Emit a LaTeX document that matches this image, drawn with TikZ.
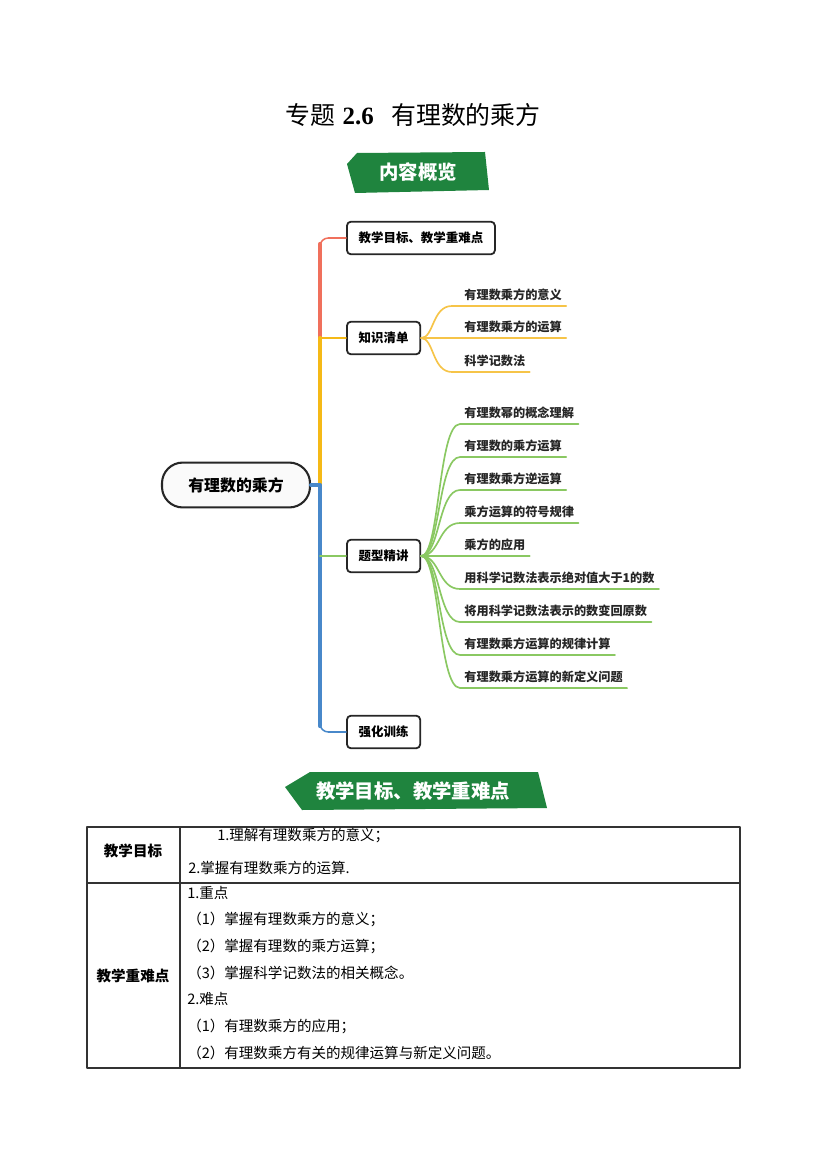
\documentclass[tikz,border=0pt]{standalone}
\usepackage{fontspec}
\setmainfont{Noto Sans CJK SC}
\newfontfamily\titlelatin{Liberation Serif}
\usetikzlibrary{calc}
\definecolor{bannergreen}{RGB}{31,132,62}
\definecolor{spinered}{RGB}{240,112,92}
\definecolor{spineyellow}{RGB}{245,185,22}
\definecolor{spineblue}{RGB}{72,136,202}
\definecolor{leafyellow}{RGB}{246,196,72}
\definecolor{leafgreen}{RGB}{138,200,98}
\begin{document}
\begin{tikzpicture}[
	x=0.254mm,
	y=-0.254mm,
	line cap=round,
	line join=round,
	rootbox/.style={draw=black!85,line width=1.5pt,fill=black!2,rounded corners=15pt,minimum width=37.6mm,minimum height=11.4mm,font=\fontsize{11.5}{13}\selectfont\bfseries},
	topicbox/.style={draw=black!85,line width=1.3pt,rounded corners=3pt,minimum height=8.3mm,inner xsep=8.5pt,font=\fontsize{9}{11}\selectfont\bfseries},
	leaf/.style={anchor=south west,inner xsep=3pt,inner ysep=3.5pt,font=\fontsize{8.8}{11}\selectfont\bfseries,text=black!85},
	trunk/.style={line width=3pt},
	twig/.style={line width=1.1pt},
	leafline/.style={line width=1.2pt},
	banner/.style={fill=bannergreen},
	bannertext/.style={text=white,font=\fontsize{14}{16}\selectfont\bfseries},
	cell/.style={anchor=west,inner sep=0pt,font=\fontsize{10.5}{12}\selectfont},
	headcell/.style={inner sep=0pt,font=\fontsize{10.5}{12}\selectfont\bfseries},
	tableline/.style={draw=black!80,line width=0.8pt,line cap=rect}
	]
	\useasboundingbox (0,0) rectangle (827,1169);
	\node (title) at (413,115) {\fontsize{18}{20}\selectfont 专题\hspace{0.3em}{\titlelatin\bfseries 2.6}\hspace{0.7em}有理数的乘方};
	% overview banner
	\fill[banner] (357,153) -- (485,152) -- (489,190) -- (355,193) -- (347,164) -- cycle;
	\node[bannertext] (overview) at (418,172) {内容概览};
	% mind map
	\node[rootbox] (root) at (236,485) {有理数的乘方};
	\node[topicbox,anchor=west] (goal) at (346,238) {教学目标、教学重难点};
	\node[topicbox,anchor=west] (list) at (346,338) {知识清单};
	\node[topicbox,anchor=west] (types) at (346,556) {题型精讲};
	\node[topicbox,anchor=west] (train) at (346,732) {强化训练};
	\coordinate (hub) at (320,485);
	\draw[twig,spinered,rounded corners=6pt] (hub |- list) |- (goal);
	\draw[trunk,spinered] (hub |- list) -- ($(hub |- goal)+(0,6)$);
	\draw[trunk,spineyellow] (hub) -- (hub |- list);
	\draw[twig,spineyellow] (hub |- list) -- (list);
	\draw[twig,spineblue,rounded corners=6pt] (hub) |- (train);
	\draw[trunk,spineblue] (root.east) -- (hub) -- ($(hub |- train)+(0,-6)$);
	\draw[twig,leafgreen] (hub |- types) -- (types);
	\foreach \y/\txt [count=\i] in {306/有理数乘方的意义,338/有理数乘方的运算,372/科学记数法}{
		\node[leaf] (k\i) at (460,\y) {\txt};
		\draw[leafline,leafyellow] (list.east) .. controls (434,338) and (432,\y) .. (452,\y) -- (k\i.south east);
	}
	\foreach \txt [count=\i] in {有理数幂的概念理解,有理数的乘方运算,有理数乘方逆运算,乘方运算的符号规律,乘方的应用,用科学记数法表示绝对值大于1的数,将用科学记数法表示的数变回原数,有理数乘方运算的规律计算,有理数乘方运算的新定义问题}{
		\pgfmathsetmacro\y{424+33*(\i-1)}
		\node[leaf] (t\i) at (460,\y) {\txt};
		\draw[leafline,leafgreen] (types.east) .. controls (440,556) and (438,\y) .. (460,\y) -- (t\i.south east);
	}
	% goals banner
	\fill[banner] (310,772) -- (538,772) -- (547,808) -- (302,810) -- (285,787) -- cycle;
	\node[bannertext] (goals) at (413,791) {教学目标、教学重难点};
	% table
	\draw[tableline] (87,827) rectangle (740,1068);
	\draw[tableline] (180,827) -- (180,1068);
	\draw[tableline] (87,883) -- (740,883);
	\node[headcell] (goalhead) at (133,851) {教学目标};
	\node[headcell] (keyhead) at (133,976) {教学重难点};
	\node[cell] (g1) at (217,835) {1.理解有理数乘方的意义；};
	\node[cell] (g2) at (188,868) {2.掌握有理数乘方的运算.};
	\foreach \txt [count=\i] in {1.重点,（1）掌握有理数乘方的意义；,（2）掌握有理数的乘方运算；,（3）掌握科学记数法的相关概念。,2.难点,（1）有理数乘方的应用；,（2）有理数乘方有关的规律运算与新定义问题。}{
		\node[cell] (d\i) at (187,893+26.6*\i-26.6) {\txt};
	}
\end{tikzpicture}
\end{document}
